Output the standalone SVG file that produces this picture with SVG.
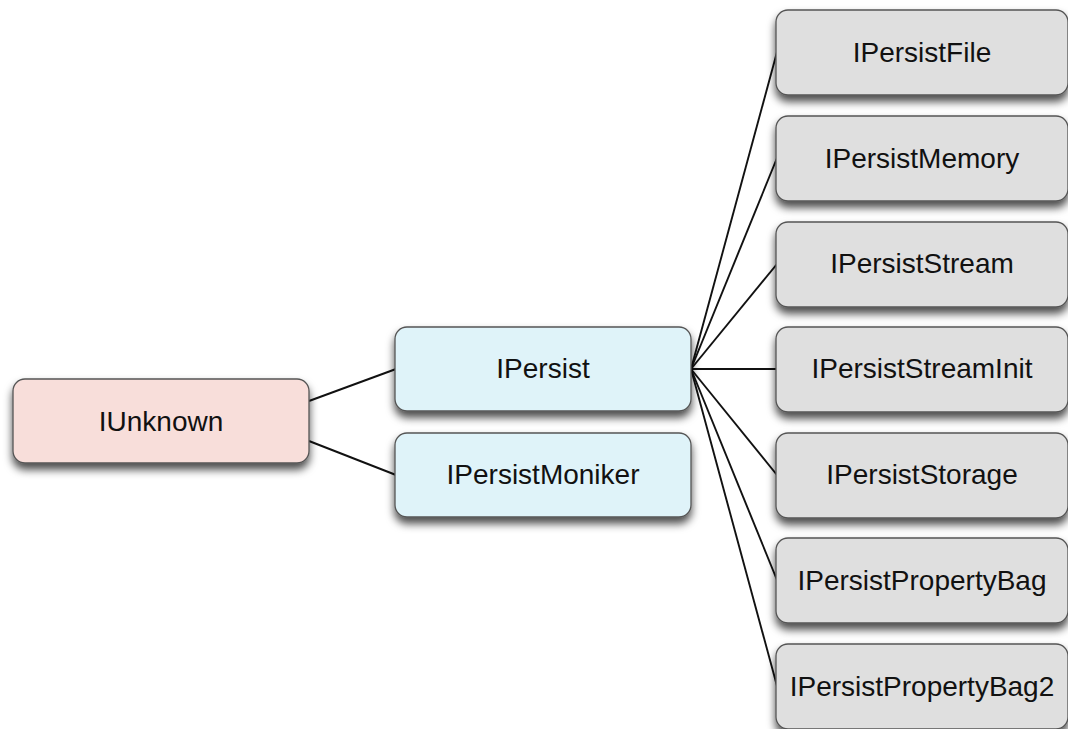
<svg xmlns="http://www.w3.org/2000/svg" width="1068" height="729" viewBox="0 0 1068 729">
<defs>
<filter id="sh" x="-10%" y="-20%" width="120%" height="150%">
<feDropShadow dx="0" dy="6" stdDeviation="4.5" flood-color="#000" flood-opacity="0.7"/>
</filter>
<style>
.box{stroke:#555;stroke-width:1.3;filter:url(#sh)}
.root{fill:#f8deda}
.mid{fill:#dff3f9}
.leaf{fill:#dfdfdf}
.lbl{font-family:"Liberation Sans",Arial,sans-serif;font-size:28px;fill:#111;text-anchor:middle}
.edge{stroke:#111;stroke-width:1.9;fill:none}
</style>
</defs>
<rect width="1068" height="729" fill="#fff"/>
<g id="connectors">
<line class="edge" x1="309" y1="401" x2="396" y2="369"/>
<line class="edge" x1="309" y1="441" x2="396" y2="475"/>
<line class="edge" x1="691" y1="369" x2="777" y2="52"/>
<line class="edge" x1="691" y1="369" x2="777" y2="158"/>
<line class="edge" x1="691" y1="369" x2="777" y2="264"/>
<line class="edge" x1="691" y1="369" x2="777" y2="369"/>
<line class="edge" x1="691" y1="369" x2="777" y2="475"/>
<line class="edge" x1="691" y1="369" x2="777" y2="580"/>
<line class="edge" x1="691" y1="369" x2="777" y2="686"/>
</g>
<g id="IUnknown"><rect class="box root" x="13" y="379" width="296" height="84" rx="12"/><text class="lbl" x="161" y="431">IUnknown</text></g>
<g id="IPersist"><rect class="box mid" x="395" y="327" width="296" height="84" rx="12"/><text class="lbl" x="543" y="378">IPersist</text></g>
<g id="IPersistMoniker"><rect class="box mid" x="395" y="433" width="296" height="84" rx="12"/><text class="lbl" x="543" y="484">IPersistMoniker</text></g>
<g id="IPersistFile"><rect class="box leaf" x="776" y="10" width="292" height="85" rx="12"/><text class="lbl" x="922" y="62">IPersistFile</text></g>
<g id="IPersistMemory"><rect class="box leaf" x="776" y="116" width="292" height="85" rx="12"/><text class="lbl" x="922" y="168">IPersistMemory</text></g>
<g id="IPersistStream"><rect class="box leaf" x="776" y="222" width="292" height="85" rx="12"/><text class="lbl" x="922" y="273">IPersistStream</text></g>
<g id="IPersistStreamInit"><rect class="box leaf" x="776" y="327" width="292" height="85" rx="12"/><text class="lbl" x="922" y="378">IPersistStreamInit</text></g>
<g id="IPersistStorage"><rect class="box leaf" x="776" y="433" width="292" height="85" rx="12"/><text class="lbl" x="922" y="484">IPersistStorage</text></g>
<g id="IPersistPropertyBag"><rect class="box leaf" x="776" y="538" width="292" height="85" rx="12"/><text class="lbl" x="922" y="590">IPersistPropertyBag</text></g>
<g id="IPersistPropertyBag2"><rect class="box leaf" x="776" y="644" width="292" height="85" rx="12"/><text class="lbl" x="922" y="696">IPersistPropertyBag2</text></g>
</svg>
